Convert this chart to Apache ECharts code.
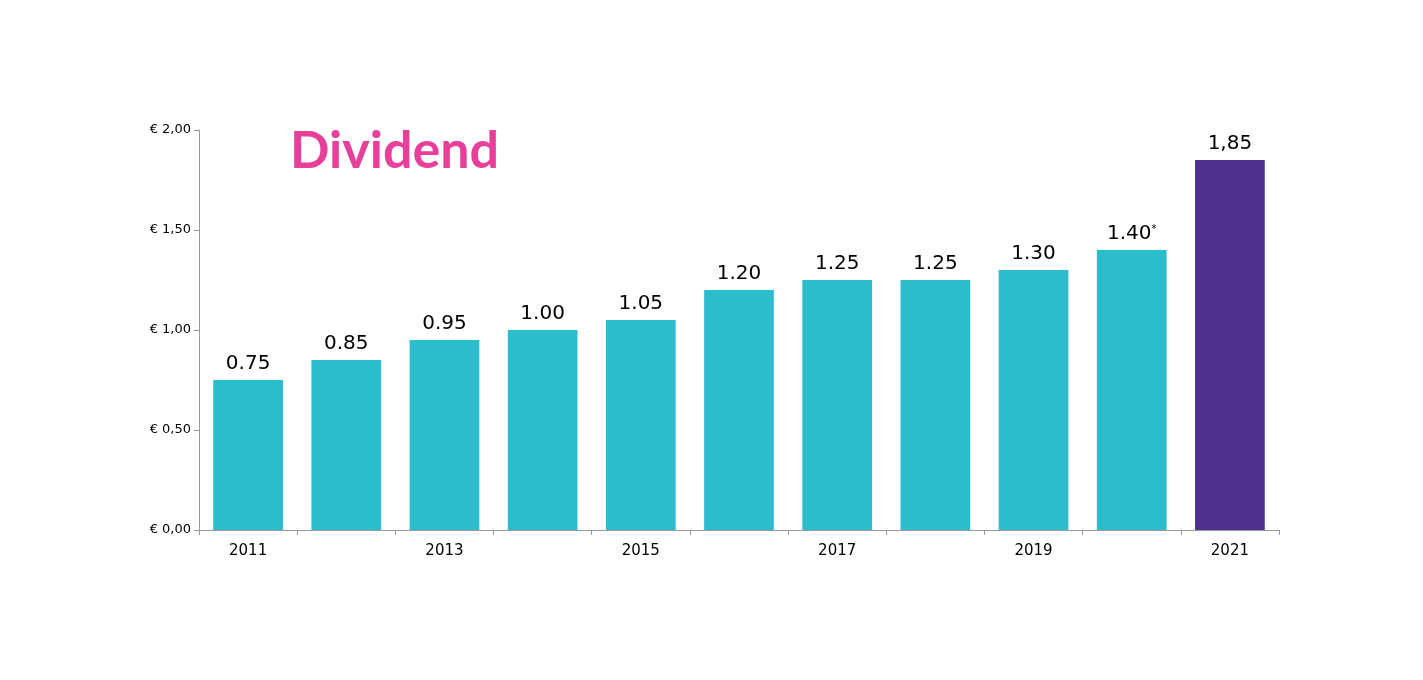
<!DOCTYPE html>
<html>
<head>
<meta charset="utf-8">
<script src="https://cdn.jsdelivr.net/npm/echarts@6/dist/echarts.min.js"></script>
<style>html,body{margin:0;background:#fff}#chart{width:1423px;height:680px}</style>
</head>
<body>
<div id="chart"></div>
<script>
// data
const years = ['2011', '2012', '2013', '2014', '2015', '2016', '2017', '2018', '2019', '2020', '2021'];
const dividends = [0.75, 0.85, 0.95, 1.00, 1.05, 1.20, 1.25, 1.25, 1.30, 1.40, 1.85];
const valueLabels = ['0.75', '0.85', '0.95', '1.00', '1.05', '1.20', '1.25', '1.25', '1.30', '1.40{s|*}', '1,85'];
const yearLabels = ['2011', '2012', '2013', '2014{s|1}', '2015', '2016', '2017', '2018', '2019', '2020', '2021'];

const chart = echarts.init(document.getElementById('chart'));
chart.setOption({
  animation: false,
  textStyle: { fontFamily: 'Verdana, "DejaVu Sans", sans-serif' },
  title: {
    text: 'Dividend',
    left: 285, top: 120,
    textStyle: { color: '#E8409A', fontSize: 52, fontWeight: 'bold', fontFamily: 'Lato, sans-serif' }
  },
  grid: { left: 199, right: 144, top: 130, bottom: 150 },
  xAxis: {
    type: 'category',
    data: years,
    axisLine: { lineStyle: { color: '#999' } },
    axisTick: { show: true, interval: 0, lineStyle: { color: '#999' } },
    axisLabel: {
      color: '#000', fontSize: 15, margin: 14,
      formatter: (v, i) => yearLabels[i],
      rich: { s: { fontSize: 8, verticalAlign: 'top', padding: [0, 0, 8, 0] } }
    }
  },
  yAxis: {
    type: 'value', min: 0, max: 2, interval: 0.5,
    splitLine: { show: false },
    axisLine: { show: true, lineStyle: { color: '#999' } },
    axisTick: { show: true, lineStyle: { color: '#999' } },
    axisLabel: { color: '#000', fontSize: 13, formatter: v => '€ ' + v.toFixed(2).replace('.', ',') }
  },
  series: [{
    type: 'bar',
    barWidth: '71%',
    data: dividends.map((v, i) => ({ value: v, itemStyle: { color: i === 10 ? '#4F318D' : '#2BBDCC' } })),
    label: {
      show: true, position: 'top', color: '#000', fontSize: 20, distance: 6,
      formatter: p => valueLabels[p.dataIndex],
      rich: { s: { fontSize: 10, verticalAlign: 'top', padding: [0, 0, 10, 0] } }
    }
  }]
});
</script>
</body>
</html>
